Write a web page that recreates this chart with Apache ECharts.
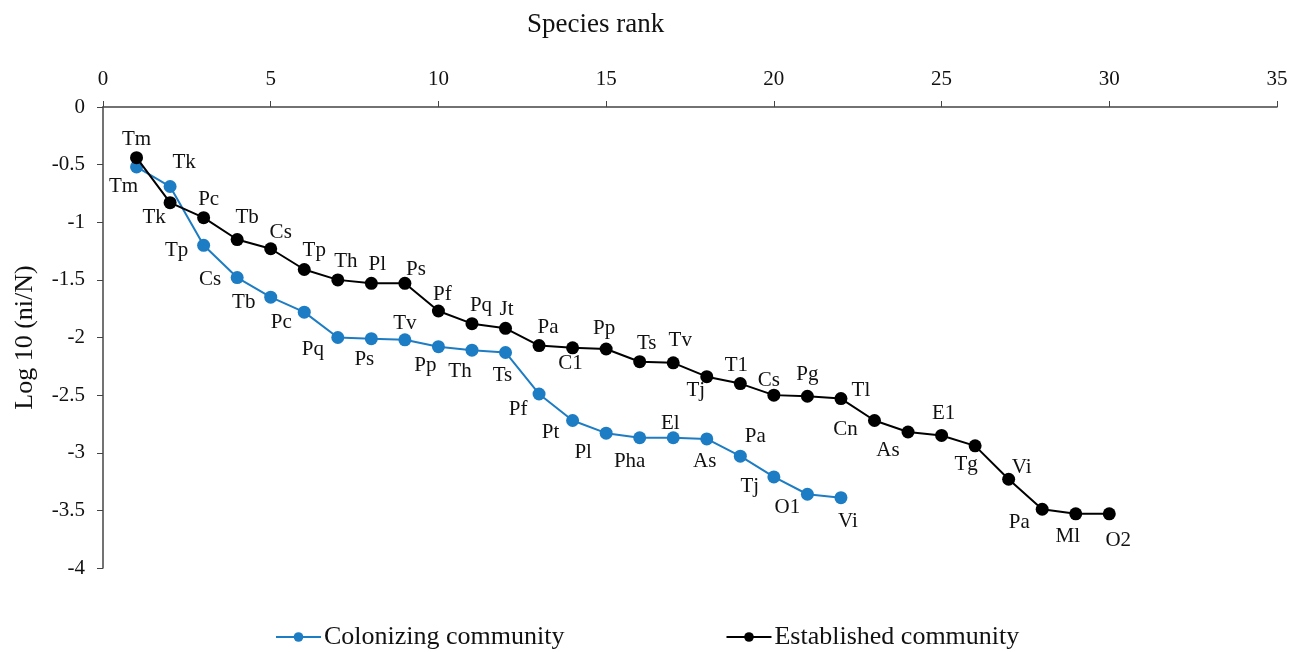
<!DOCTYPE html>
<html>
<head>
<meta charset="utf-8">
<title>Rank-abundance curves</title>
<script src="https://cdn.jsdelivr.net/npm/echarts@6/dist/echarts.min.js"></script>
<style>
  html, body { margin: 0; padding: 0; background: #fff; }
  #chart { width: 1290px; height: 652px; }
</style>
</head>
<body>
<div id="chart"></div>
<script>
// Species rank (x) and log10 relative abundance (y) for each community
const colonizingRanks = [1, 2, 3, 4, 5, 6, 7, 8, 9, 10, 11, 12, 13, 14, 15, 16, 17, 18, 19, 20, 21, 22];
const colonizingLogAbundance = [-0.52, -0.69, -1.20, -1.48, -1.65, -1.78, -2.00, -2.01, -2.02, -2.08, -2.11, -2.13,
  -2.49, -2.72, -2.83, -2.87, -2.87, -2.88, -3.03, -3.21, -3.36, -3.39];
const colonizingSpecies = ['Tm', 'Tk', 'Tp', 'Cs', 'Tb', 'Pc', 'Pq', 'Ps', 'Tv', 'Pp', 'Th', 'Ts',
  'Pf', 'Pt', 'Pl', 'Pha', 'El', 'As', 'Pa', 'Tj', 'O1', 'Vi'];

const establishedRanks = [1, 2, 3, 4, 5, 6, 7, 8, 9, 10, 11, 12, 13, 14, 15, 16, 17, 18, 19, 20,
  21, 22, 23, 24, 25, 26, 27, 28, 29, 30];
const establishedLogAbundance = [-0.44, -0.83, -0.96, -1.15, -1.23, -1.41, -1.50, -1.53, -1.53, -1.77,
  -1.88, -1.92, -2.07, -2.09, -2.10, -2.21, -2.22, -2.34, -2.40, -2.50,
  -2.51, -2.53, -2.72, -2.82, -2.85, -2.94, -3.23, -3.49, -3.53, -3.53];
const establishedSpecies = ['Tm', 'Tk', 'Pc', 'Tb', 'Cs', 'Tp', 'Th', 'Pl', 'Ps', 'Pf',
  'Pq', 'Jt', 'Pa', 'C1', 'Pp', 'Ts', 'Tv', 'Tj', 'T1', 'Cs',
  'Pg', 'Tl', 'Cn', 'As', 'E1', 'Tg', 'Vi', 'Pa', 'Ml', 'O2'];

const xTicks = { min: 0, max: 35, step: 5 };
const yTicks = { min: -4, max: 0, step: 0.5 };

// Label placement (pixel offset of each label centre from its marker)
const colonizingLabelOffsets = [[-13, 20], [14, -24], [-27, 5], [-27, 2], [-27, 5], [-23, 10], [-25, 12], [-7, 21],
  [0, -16], [-13, 19], [-12, 21], [-3, 23], [-21, 16], [-22, 12], [-23, 19], [-10, 24],
  [-3, -14], [-2, 23], [15, -20], [-24, 10], [-20, 13], [7, 24]];
const establishedLabelOffsets = [[0, -18], [-16, 15], [5, -18], [10, -22], [10, -16], [10, -19], [8, -18], [6, -19],
  [11, -14], [4, -17], [9, -18], [1, -19], [9, -18], [-2, 16], [-2, -21], [7, -18],
  [7, -22], [-11, 14], [-4, -18], [-5, -15], [0, -22], [20, -8], [-29, 9], [-20, 18],
  [2, -22], [-9, 19], [13, -12], [-23, 13], [-8, 23], [9, 27]];

const SERIF = '"Liberation Serif", "DejaVu Serif", serif';
const BLUE = '#1c7cc4';
const BLACK = '#000000';

function buildPoints(xs, ys, names) {
  return xs.map((x, i) => ({ name: names[i], value: [x, ys[i]] }));
}

function lineSeries(name, color, points, offsets) {
  return {
    name: name,
    type: 'line',
    data: points,
    symbol: 'circle',
    symbolSize: 13,
    showAllSymbol: true,
    lineStyle: { color: color, width: 2 },
    itemStyle: { color: color },
    label: {
      show: true,
      position: 'inside',
      formatter: (p) => p.name,
      color: '#111',
      fontFamily: SERIF,
      fontSize: 21
    },
    labelLayout: (p) => {
      const o = offsets[p.dataIndex] || [0, 0];
      return { dx: o[0], dy: o[1], hideOverlap: false };
    },
    emphasis: { disabled: true },
    animation: false,
    z: name === 'Established community' ? 3 : 2
  };
}

const chart = echarts.init(document.getElementById('chart'), null, { renderer: 'canvas' });

chart.setOption({
  backgroundColor: '#ffffff',
  animation: false,
  title: {
    text: 'Species rank',
    left: 522,
    top: 6,
    textStyle: { fontFamily: SERIF, fontSize: 27, fontWeight: 'normal', color: '#111' }
  },
  grid: { left: 103, right: 13, top: 107, bottom: 84, containLabel: false, outerBoundsMode: 'none' },
  legend: {
    left: 275,
    top: 624,
    padding: 0,
    itemWidth: 45,
    itemHeight: 12,
    itemGap: 161,
    textStyle: { fontFamily: SERIF, fontSize: 26, color: '#111', padding: [0, 0, 0, -2] },
    data: ['Colonizing community', 'Established community']
  },
  xAxis: {
    type: 'value',
    position: 'top',
    min: xTicks.min,
    max: xTicks.max,
    interval: xTicks.step,
    axisLine: { show: true, onZero: false, lineStyle: { color: '#444', width: 1.5 } },
    axisTick: { show: true, length: 6, lineStyle: { color: '#444' } },
    axisLabel: { fontFamily: SERIF, fontSize: 21, color: '#111', margin: 17 },
    splitLine: { show: false }
  },
  yAxis: {
    type: 'value',
    min: yTicks.min,
    max: yTicks.max,
    interval: yTicks.step,
    name: 'Log 10 (ni/N)',
    nameLocation: 'middle',
    nameGap: 65,
    nameTextStyle: { fontFamily: SERIF, fontSize: 26, color: '#111' },
    axisLine: { show: true, onZero: false, lineStyle: { color: '#444', width: 1.5 } },
    axisTick: { show: true, length: 6, lineStyle: { color: '#444' } },
    axisLabel: { fontFamily: SERIF, fontSize: 21, color: '#111', margin: 18 },
    splitLine: { show: false }
  },
  series: [
    lineSeries('Colonizing community', BLUE,
      buildPoints(colonizingRanks, colonizingLogAbundance, colonizingSpecies), colonizingLabelOffsets),
    lineSeries('Established community', BLACK,
      buildPoints(establishedRanks, establishedLogAbundance, establishedSpecies), establishedLabelOffsets)
  ]
});
</script>
</body>
</html>
